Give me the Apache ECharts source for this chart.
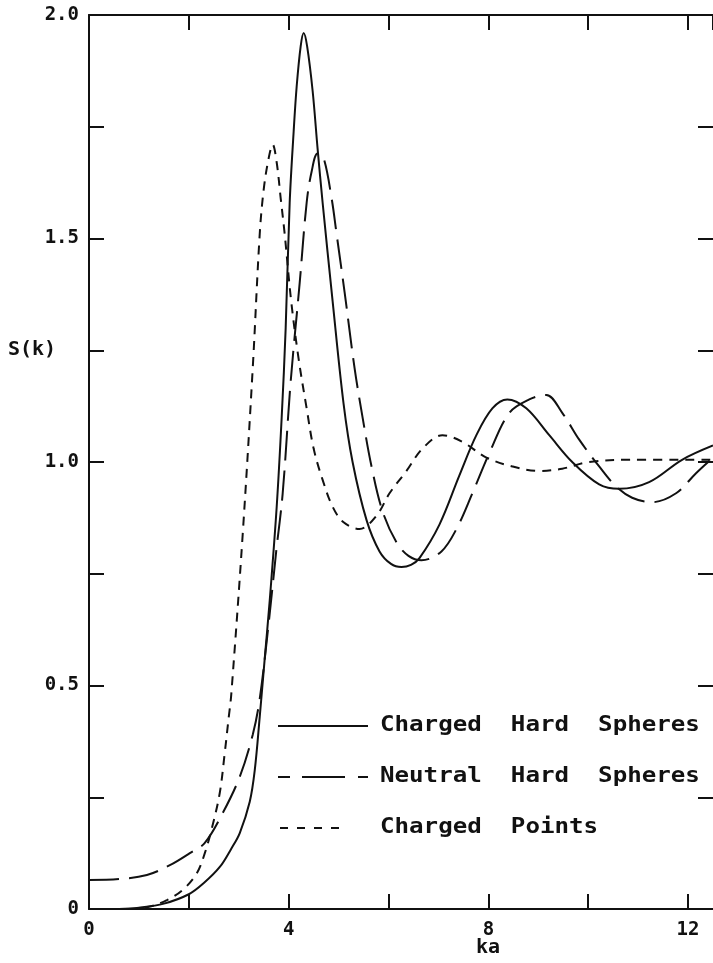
<!DOCTYPE html>
<html>
<head>
<meta charset="utf-8">
<script src="https://cdn.jsdelivr.net/npm/echarts@6/dist/echarts.min.js"></script>
<style>
  html, body { margin: 0; padding: 0; background: #fff; }
  #chart { width: 713px; height: 963px; }
</style>
</head>
<body>
<div id="chart"></div>
<script>
// ---- Data ----
const seriesNames = ['Charged  Hard  Spheres', 'Neutral  Hard  Spheres', 'Charged  Points'];

// Charged hard spheres (solid)
const kCHS = [0.6, 1.0, 1.5, 2.0, 2.3, 2.62, 2.85, 3.02, 3.22, 3.32, 3.42, 3.52, 3.62, 3.76, 3.86, 3.94, 4.02, 4.1, 4.16, 4.24, 4.3, 4.37, 4.48, 4.58, 4.68, 4.88, 5.1, 5.28, 5.56, 5.82, 6.05, 6.26, 6.45, 6.62, 7.02, 7.42, 7.76, 8.08, 8.38, 8.76, 9.22, 9.68, 10.22, 10.62, 11.22, 11.88, 12.5];
const sCHS = [0.0, 0.003, 0.012, 0.033, 0.058, 0.094, 0.135, 0.17, 0.24, 0.31, 0.43, 0.56, 0.69, 0.9, 1.1, 1.3, 1.58, 1.74, 1.84, 1.93, 1.96, 1.93, 1.83, 1.7, 1.58, 1.36, 1.13, 1.0, 0.87, 0.8, 0.772, 0.765, 0.77, 0.785, 0.86, 0.97, 1.06, 1.12, 1.14, 1.12, 1.06, 1.0, 0.95, 0.94, 0.955, 1.005, 1.037];

// Neutral hard spheres (long dash)
const kNHS = [0.0, 0.6, 1.16, 1.62, 2.02, 2.32, 2.68, 3.02, 3.28, 3.42, 3.6, 3.75, 3.88, 4.04, 4.22, 4.36, 4.46, 4.58, 4.7, 4.86, 4.96, 5.12, 5.32, 5.48, 5.66, 5.88, 6.16, 6.4, 6.66, 7.06, 7.36, 7.68, 8.02, 8.42, 8.82, 9.16, 9.48, 9.82, 10.22, 10.56, 10.88, 11.28, 11.76, 12.16, 12.5];
const sNHS = [0.065, 0.067, 0.076, 0.098, 0.125, 0.148, 0.215, 0.296, 0.39, 0.47, 0.64, 0.8, 0.93, 1.18, 1.4, 1.58, 1.65, 1.69, 1.68, 1.59, 1.51, 1.38, 1.21, 1.1, 0.99, 0.89, 0.82, 0.79, 0.78, 0.8, 0.85, 0.93, 1.02, 1.11, 1.14, 1.15, 1.11, 1.05, 0.99, 0.945, 0.92, 0.91, 0.93, 0.975, 1.01];

// Charged points (short dash)
const kCP = [0.8, 1.2, 1.56, 1.88, 2.16, 2.32, 2.46, 2.62, 2.72, 2.8, 2.85, 3.08, 3.28, 3.42, 3.5, 3.6, 3.68, 3.76, 3.84, 3.92, 4.05, 4.2, 4.36, 4.5, 4.68, 4.88, 5.1, 5.42, 5.76, 6.02, 6.36, 6.68, 7.08, 7.48, 7.96, 8.48, 9.02, 9.48, 10.02, 10.88, 12.5];
const sCP = [0.0, 0.005, 0.02, 0.043, 0.08, 0.125, 0.18, 0.26, 0.35, 0.43, 0.48, 0.84, 1.21, 1.51, 1.61, 1.68, 1.71, 1.67, 1.59, 1.51, 1.36, 1.23, 1.12, 1.03, 0.96, 0.9, 0.865, 0.85, 0.88, 0.93, 0.98, 1.03, 1.06, 1.045, 1.01, 0.99, 0.98, 0.985, 1.0, 1.005, 1.005];

const xLabelValues = [0, 4, 8, 12];
const yLabelValues = [0, 0.5, 1.0, 1.5, 2.0];
const yLabelTexts = ['0', '0.5', '1.0', '1.5', '2.0'];
const xTitle = 'ka';
const yTitle = 'S(k)';

// ---- Chart ----
const zip = (ks, ss) => ks.map((k, i) => [k, ss[i]]);
const FONT = '"DejaVu Sans Mono", "Liberation Mono", monospace';
const INK = '#111';

const chart = echarts.init(document.getElementById('chart'), null, { renderer: 'canvas' });

const tickStyle = { show: true, inside: true, length: 15, lineStyle: { color: INK, width: 2 } };
const lineStyleAxis = { show: true, onZero: false, lineStyle: { color: INK, width: 2 } };

function xLabelFmt(v) {
  for (const t of xLabelValues) if (Math.abs(v - t) < 1e-6) return String(t);
  return '';
}
function yLabelFmt(v) {
  for (let i = 0; i < yLabelValues.length; i++) if (Math.abs(v - yLabelValues[i]) < 1e-6) return yLabelTexts[i];
  return '';
}

const legendY = [726, 777, 828];

const option = {
  backgroundColor: '#fff',
  animation: false,
  grid: { left: 89, top: 15, width: 625, height: 894, containLabel: false },
  xAxis: [
    {
      type: 'value', position: 'bottom', min: 0, max: 12.5, interval: 2,
      axisLine: lineStyleAxis, axisTick: tickStyle, splitLine: { show: false },
      axisLabel: { formatter: xLabelFmt, margin: 12, fontFamily: FONT, fontWeight: 'bold', fontSize: 19, color: INK, showMaxLabel: false }
    },
    {
      type: 'value', position: 'top', min: 0, max: 12.5, interval: 2,
      axisLine: lineStyleAxis, axisTick: tickStyle, splitLine: { show: false },
      axisLabel: { show: false }
    }
  ],
  yAxis: [
    {
      type: 'value', position: 'left', min: 0, max: 2, interval: 0.25,
      axisLine: lineStyleAxis, axisTick: tickStyle, splitLine: { show: false },
      axisLabel: { formatter: yLabelFmt, margin: 10, fontFamily: FONT, fontWeight: 'bold', fontSize: 19, color: INK }
    },
    {
      type: 'value', position: 'right', min: 0, max: 2, interval: 0.25,
      axisLine: { show: false, onZero: false }, axisTick: tickStyle, splitLine: { show: false },
      axisLabel: { show: false }
    }
  ],
  series: [
    {
      name: seriesNames[0], type: 'line', xAxisIndex: 0, yAxisIndex: 0,
      data: zip(kCHS, sCHS), showSymbol: false, smooth: 0.35,
      lineStyle: { color: INK, width: 2, type: 'solid' }
    },
    {
      name: seriesNames[1], type: 'line', xAxisIndex: 0, yAxisIndex: 0,
      data: zip(kNHS, sNHS), showSymbol: false, smooth: 0.35,
      lineStyle: { color: INK, width: 2, type: [30, 10] }
    },
    {
      name: seriesNames[2], type: 'line', xAxisIndex: 0, yAxisIndex: 0,
      data: zip(kCP, sCP), showSymbol: false, smooth: 0.35,
      lineStyle: { color: INK, width: 2, type: [9, 7] }
    }
  ],
  graphic: [
    // axis titles
    { type: 'text', left: 8, top: 340, style: { text: yTitle, font: 'bold 20px ' + FONT, fill: INK } },
    { type: 'text', left: 476, top: 938, style: { text: xTitle, font: 'bold 20px ' + FONT, fill: INK } },
    // legend samples
    { type: 'line', shape: { x1: 278, y1: legendY[0], x2: 368, y2: legendY[0] }, style: { stroke: INK, lineWidth: 2 } },
    { type: 'line', shape: { x1: 278, y1: legendY[1], x2: 290, y2: legendY[1] }, style: { stroke: INK, lineWidth: 2 } },
    { type: 'line', shape: { x1: 302, y1: legendY[1], x2: 345, y2: legendY[1] }, style: { stroke: INK, lineWidth: 2 } },
    { type: 'line', shape: { x1: 358, y1: legendY[1], x2: 368, y2: legendY[1] }, style: { stroke: INK, lineWidth: 2 } },
    { type: 'line', shape: { x1: 280, y1: legendY[2], x2: 340, y2: legendY[2] }, style: { stroke: INK, lineWidth: 2, lineDash: [8, 9] } },
    // legend texts
    { type: 'text', x: 380, y: legendY[0], scaleX: 1.15, style: { text: seriesNames[0], font: 'bold 21px ' + FONT, fill: INK, textVerticalAlign: 'middle', verticalAlign: 'middle' } },
    { type: 'text', x: 380, y: legendY[1], scaleX: 1.15, style: { text: seriesNames[1], font: 'bold 21px ' + FONT, fill: INK, textVerticalAlign: 'middle', verticalAlign: 'middle' } },
    { type: 'text', x: 380, y: legendY[2], scaleX: 1.15, style: { text: seriesNames[2], font: 'bold 21px ' + FONT, fill: INK, textVerticalAlign: 'middle', verticalAlign: 'middle' } }
  ]
};

chart.setOption(option);
</script>
</body>
</html>
